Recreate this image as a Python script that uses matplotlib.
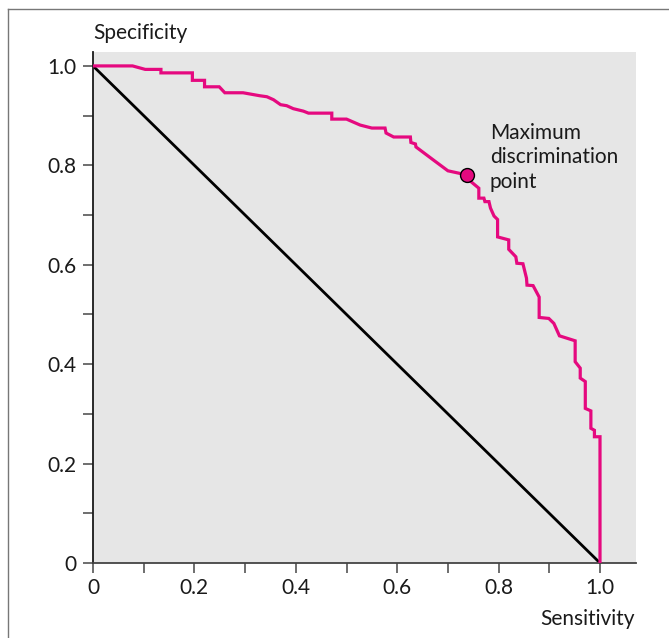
import matplotlib
matplotlib.use("Agg")
import matplotlib.pyplot as plt
from matplotlib.lines import Line2D
import numpy as np

# ── data ──────────────────────────────────────────────────────────────────────

# ROC curve drawn as specificity against sensitivity
sensitivity = [0.000, 0.078, 0.103, 0.134, 0.134, 0.196, 0.196, 0.220, 0.220,
               0.249, 0.260, 0.296, 0.329, 0.343, 0.356, 0.370, 0.382, 0.395,
               0.415, 0.425, 0.471, 0.471, 0.500, 0.527, 0.550, 0.576, 0.578,
               0.593, 0.626, 0.627, 0.636, 0.637, 0.671, 0.700, 0.727, 0.738,
               0.741, 0.761, 0.761, 0.771, 0.773, 0.781, 0.784, 0.791, 0.798,
               0.798, 0.820, 0.820, 0.834, 0.836, 0.848, 0.855, 0.856, 0.868,
               0.880, 0.880, 0.899, 0.909, 0.920, 0.951, 0.951, 0.961, 0.961,
               0.971, 0.971, 0.982, 0.982, 0.989, 0.989, 1.000, 1.000]
specificity = [1.000, 1.000, 0.993, 0.993, 0.986, 0.986, 0.971, 0.971, 0.958,
               0.958, 0.946, 0.946, 0.940, 0.938, 0.932, 0.922, 0.920, 0.914,
               0.909, 0.905, 0.905, 0.893, 0.893, 0.881, 0.875, 0.875, 0.865,
               0.857, 0.857, 0.846, 0.843, 0.837, 0.811, 0.789, 0.783, 0.780,
               0.771, 0.754, 0.734, 0.734, 0.727, 0.727, 0.714, 0.698, 0.691,
               0.656, 0.650, 0.631, 0.616, 0.603, 0.602, 0.573, 0.559, 0.558,
               0.535, 0.494, 0.492, 0.482, 0.457, 0.447, 0.405, 0.392, 0.372,
               0.365, 0.311, 0.306, 0.271, 0.267, 0.254, 0.254, 0.000]

# maximum discrimination point
max_point = (0.738, 0.780)
max_label = "Maximum\ndiscrimination\npoint"

# chance line
chance_x = [0.0, 1.0]
chance_y = [1.0, 0.0]

tick_major = [0, 0.2, 0.4, 0.6, 0.8, 1.0]
tick_labels = ["0", "0.2", "0.4", "0.6", "0.8", "1.0"]
tick_minor = [0.1, 0.3, 0.5, 0.7, 0.9]

# ── visual settings ───────────────────────────────────────────────────────────

pink = "#e5097f"
fs = 15
plt.rcParams.update({
    "font.family": ["Lato", "DejaVu Sans"],
    "font.size": fs,
})

fig = plt.figure(figsize=(6.69, 6.38), dpi=100)
ax = fig.add_axes([93 / 669, 75 / 638, 543 / 669, 511 / 638])
ax.set_facecolor("#e6e6e6")

ax.plot(chance_x, chance_y, color="black", lw=2.0, zorder=2)
ax.plot(sensitivity, specificity, color=pink, lw=2.3, zorder=3,
        solid_joinstyle="miter")
ax.plot(*max_point, marker="o", ms=10, mfc=pink, mec="black", mew=1.0, zorder=4)
ax.text(0.783, 0.886, max_label, ha="left", va="top", fontsize=fs,
        linespacing=1.28, color="#1a1a1a")

ax.set_xlim(0, 1.071)
ax.set_ylim(0, 1.028)

for axis in (ax.xaxis, ax.yaxis):
    axis.set_ticks(tick_major)
    axis.set_ticks(tick_minor, minor=True)
ax.set_xticklabels(tick_labels)
ax.set_yticklabels(tick_labels)
ax.tick_params(which="both", direction="out", length=7, width=1.2,
               color="#555555", labelsize=fs, labelcolor="#1a1a1a")
ax.tick_params(axis="x", which="both", pad=4)
ax.tick_params(axis="y", which="both", pad=5)

for side in ("top", "right"):
    ax.spines[side].set_visible(False)
ax.spines["left"].set_color("#1a1a1a")
ax.spines["bottom"].set_color("#444444")
ax.spines["left"].set_linewidth(1.3)
ax.spines["bottom"].set_linewidth(1.3)

fig.text(93 / 669, 1 - 33 / 638, "Specificity", ha="left", va="center",
         fontsize=fs, color="#1a1a1a")
fig.text(635 / 669, 1 - 619 / 638, "Sensitivity", ha="right", va="center",
         fontsize=fs, color="#1a1a1a")

# thin frame on the left and top edges
fx, fy = 7.5 / 669, 1 - 9 / 638
fig.add_artist(Line2D([fx, fx], [0, fy], transform=fig.transFigure,
                      color="#777777", lw=1.0))
fig.add_artist(Line2D([fx, 1], [fy, fy], transform=fig.transFigure,
                      color="#777777", lw=1.0))

fig.savefig("out.png", dpi=100)
